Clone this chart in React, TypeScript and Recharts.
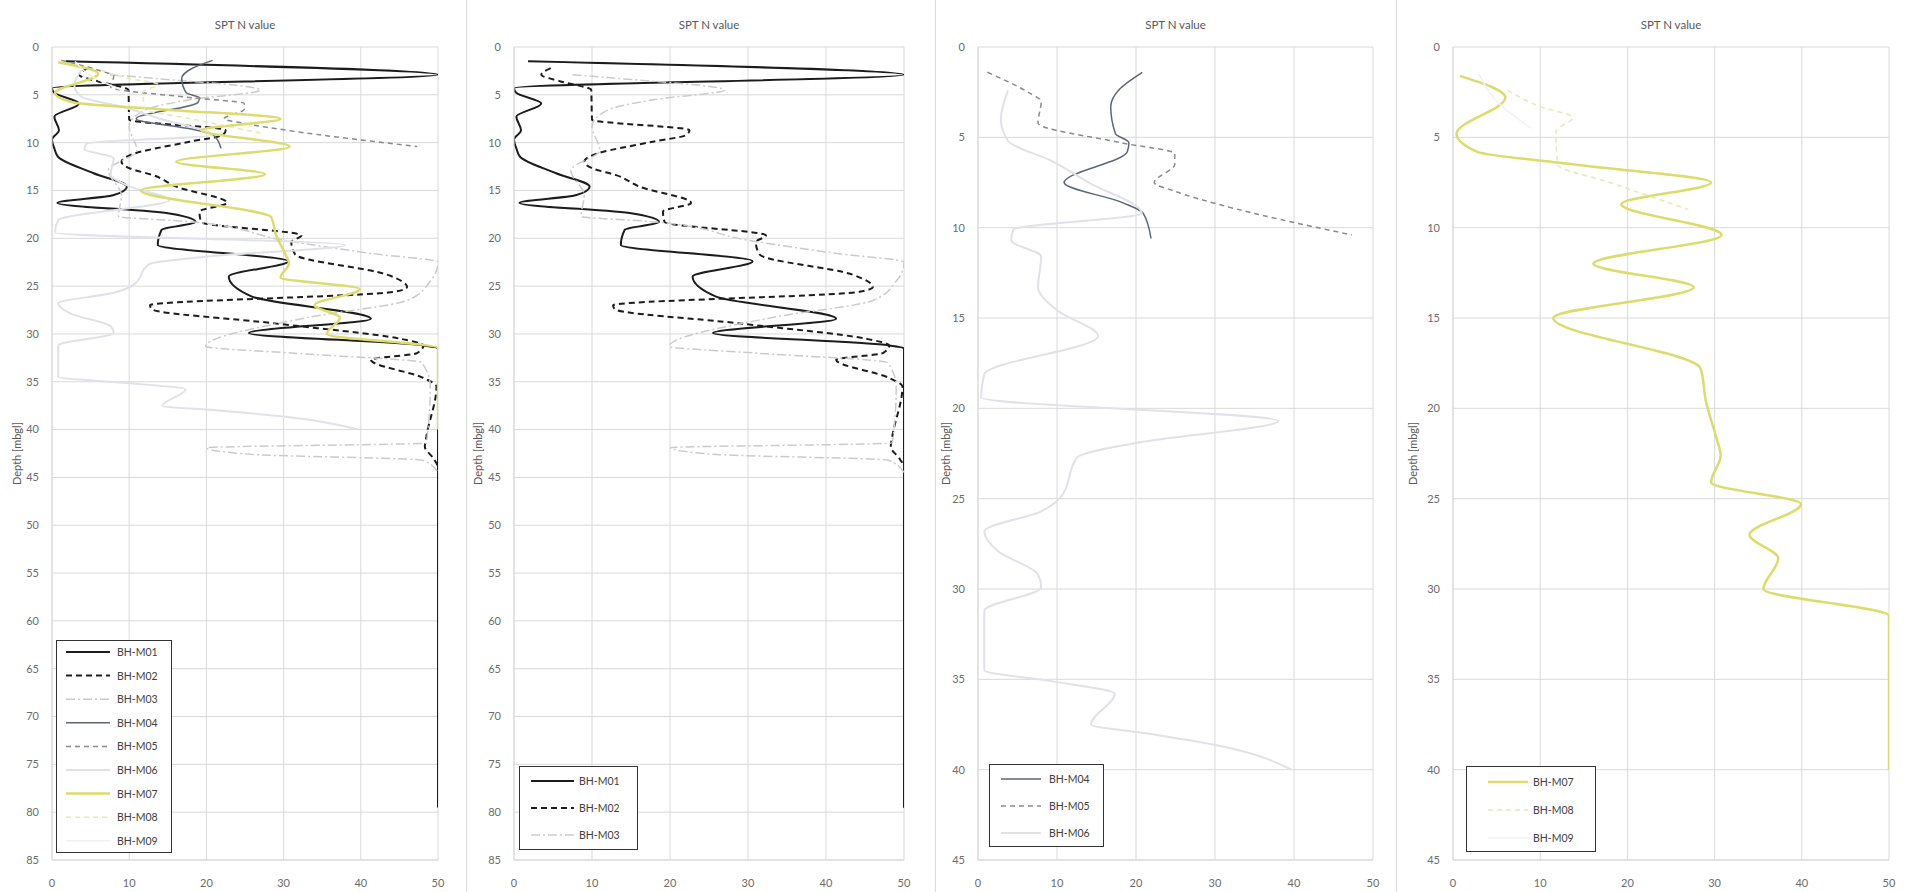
import React from 'react';
import { LineChart, Line, XAxis, YAxis, CartesianGrid } from 'recharts';

type Pt = { d: number; n: number };

// SPT N values per borehole: d = depth [mbgl], n = blow count
const bhM01: Pt[] = [
  { d: 1.5, n: 1.8 }, { d: 2.9, n: 50 }, { d: 4.3, n: 0 }, { d: 4.8, n: 0.3 },
  { d: 5.9, n: 3.5 }, { d: 7.3, n: 0.3 }, { d: 8.7, n: 0.9 }, { d: 9.7, n: 0 },
  { d: 10.6, n: 0.3 }, { d: 11.5, n: 0.8 }, { d: 13.2, n: 5.4 }, { d: 14.6, n: 9.7 },
  { d: 15.5, n: 7.9 }, { d: 16.3, n: 0.7 }, { d: 17.4, n: 15.2 }, { d: 18.3, n: 18.6 },
  { d: 19.1, n: 14.2 }, { d: 20.7, n: 13.7 }, { d: 22.4, n: 30.6 }, { d: 24.0, n: 22.9 },
  { d: 26.1, n: 25.9 }, { d: 28.4, n: 41.3 }, { d: 29.9, n: 25.5 }, { d: 31.2, n: 48.1 },
  { d: 31.5, n: 50 }, { d: 79.5, n: 50 },
];

const bhM02: Pt[] = [
  { d: 2.2, n: 4.7 }, { d: 2.9, n: 3.5 }, { d: 3.6, n: 6 }, { d: 4.5, n: 9.9 },
  { d: 7.6, n: 10 }, { d: 8.7, n: 22.5 }, { d: 9.2, n: 22.1 }, { d: 9.9, n: 17.8 },
  { d: 11.3, n: 10.1 }, { d: 12.0, n: 9.0 }, { d: 12.7, n: 10.1 }, { d: 13.4, n: 13.1 },
  { d: 14.6, n: 16.1 }, { d: 16.3, n: 22.7 }, { d: 17.2, n: 19.1 }, { d: 18.3, n: 19.3 },
  { d: 19.7, n: 32.3 }, { d: 20.4, n: 31 }, { d: 21.7, n: 31.5 }, { d: 23.8, n: 43.4 },
  { d: 25.1, n: 46 }, { d: 25.6, n: 44.3 }, { d: 27.0, n: 12.7 }, { d: 27.4, n: 12.9 },
  { d: 28.9, n: 28.9 }, { d: 30.5, n: 45.1 }, { d: 31.2, n: 48.1 }, { d: 32.0, n: 47.3 },
  { d: 32.7, n: 41.3 }, { d: 34.6, n: 48.1 }, { d: 35.5, n: 49.8 }, { d: 40.7, n: 48.5 },
  { d: 41.8, n: 48.3 }, { d: 43.0, n: 49.4 }, { d: 44.0, n: 50 }, { d: 79.5, n: 50 },
];

const bhM03: Pt[] = [
  { d: 2.9, n: 7.5 }, { d: 3.2, n: 12 }, { d: 4.5, n: 27 }, { d: 5.5, n: 18 },
  { d: 6.6, n: 12 }, { d: 8.3, n: 10 }, { d: 10.8, n: 11 }, { d: 12.9, n: 7.3 },
  { d: 15.5, n: 9 }, { d: 17.7, n: 8.6 }, { d: 18.3, n: 18.4 }, { d: 20.2, n: 30 },
  { d: 21.6, n: 41.5 }, { d: 22.5, n: 50 }, { d: 24.5, n: 49 }, { d: 26.5, n: 46 },
  { d: 28.3, n: 33 }, { d: 31.3, n: 19.9 }, { d: 32.0, n: 31 }, { d: 33.0, n: 47.9 },
  { d: 35.5, n: 49 }, { d: 41.4, n: 48.5 }, { d: 41.9, n: 20 }, { d: 42.6, n: 26 },
  { d: 43.2, n: 48 }, { d: 44.5, n: 50 },
];

const bhM04: Pt[] = [
  { d: 1.4, n: 20.8 }, { d: 2.3, n: 18 }, { d: 3.3, n: 16.8 }, { d: 4.8, n: 17.4 },
  { d: 5.3, n: 19.1 }, { d: 5.8, n: 18.9 }, { d: 7.5, n: 10.9 }, { d: 8.6, n: 18.2 },
  { d: 9.2, n: 20.9 }, { d: 10.6, n: 21.9 },
];

const bhM05: Pt[] = [
  { d: 1.4, n: 1.2 }, { d: 2.6, n: 6.7 }, { d: 3.0, n: 8 }, { d: 4.2, n: 7.6 },
  { d: 5.3, n: 18.1 }, { d: 5.9, n: 24.9 }, { d: 6.5, n: 24.9 }, { d: 7.5, n: 22.3 },
  { d: 8.0, n: 25 }, { d: 8.75, n: 30.8 }, { d: 10.4, n: 47.3 },
];

const bhM06: Pt[] = [
  { d: 2.4, n: 3.8 }, { d: 4.0, n: 2.9 }, { d: 5.2, n: 3.8 }, { d: 6.3, n: 9.3 },
  { d: 7.5, n: 14 }, { d: 9.2, n: 20.7 }, { d: 10.1, n: 4.5 }, { d: 10.7, n: 4.2 },
  { d: 11.6, n: 8 }, { d: 13.3, n: 7.6 }, { d: 14.6, n: 10.1 }, { d: 16.0, n: 15.2 },
  { d: 18.1, n: 0.8 }, { d: 19.4, n: 0.4 }, { d: 20.7, n: 38 }, { d: 21.9, n: 20.2 },
  { d: 22.7, n: 12.6 }, { d: 24.9, n: 10.5 }, { d: 25.7, n: 8 }, { d: 26.8, n: 0.8 },
  { d: 27.9, n: 2.5 }, { d: 29.2, n: 7.6 }, { d: 29.9, n: 8 }, { d: 31.2, n: 0.8 },
  { d: 34.5, n: 0.8 }, { d: 35.1, n: 9.3 }, { d: 35.8, n: 17.3 }, { d: 37.5, n: 14.3 },
  { d: 38.0, n: 21.5 }, { d: 38.7, n: 30.8 }, { d: 40.0, n: 39.7 },
];

const bhM07: Pt[] = [
  { d: 1.6, n: 0.8 }, { d: 2.8, n: 6 }, { d: 4.8, n: 0.4 }, { d: 5.8, n: 2.8 },
  { d: 6.5, n: 13.9 }, { d: 7.5, n: 29.6 }, { d: 8.7, n: 19.3 }, { d: 10.4, n: 30.8 },
  { d: 12.0, n: 16.1 }, { d: 13.3, n: 27.6 }, { d: 15.0, n: 11.5 }, { d: 17.8, n: 28.4 },
  { d: 19.6, n: 29 }, { d: 21.8, n: 30.3 }, { d: 22.6, n: 30.7 }, { d: 24.1, n: 29.6 },
  { d: 25.3, n: 39.9 }, { d: 27.0, n: 34 }, { d: 28.3, n: 37.3 }, { d: 30.0, n: 35.6 },
  { d: 31.5, n: 50 }, { d: 40.0, n: 50 },
];

const bhM08: Pt[] = [
  { d: 2.4, n: 6.3 }, { d: 3.3, n: 10 }, { d: 3.9, n: 13.7 }, { d: 4.7, n: 11.8 },
  { d: 6.5, n: 12 }, { d: 7.5, n: 18 }, { d: 9.0, n: 27 },
];

const bhM09: Pt[] = [
  { d: 1.5, n: 3 }, { d: 3.0, n: 5 }, { d: 4.5, n: 9 },
];

const boreholeNames = ['BH-M01', 'BH-M02', 'BH-M03', 'BH-M04', 'BH-M05', 'BH-M06', 'BH-M07', 'BH-M08', 'BH-M09'];
const boreholeData: Pt[][] = [bhM01, bhM02, bhM03, bhM04, bhM05, bhM06, bhM07, bhM08, bhM09];

const nTicks = [0, 10, 20, 30, 40, 50];
const depthTicksDeep = [0, 5, 10, 15, 20, 25, 30, 35, 40, 45, 50, 55, 60, 65, 70, 75, 80, 85];
const depthTicksShallow = [0, 5, 10, 15, 20, 25, 30, 35, 40, 45];
const chartTitle = 'SPT N value';
const depthTitle = 'Depth [mbgl]';

type LineStyle = { stroke: string; width: number; dash?: string };

const lineStyles: LineStyle[] = [
  { stroke: '#1c1c1c', width: 2 },
  { stroke: '#1c1c1c', width: 2, dash: '6 4' },
  { stroke: '#cbcbcb', width: 1.5, dash: '9 3 2 3' },
  { stroke: '#5d6577', width: 1.5 },
  { stroke: '#8a8a8a', width: 1.5, dash: '5 4' },
  { stroke: '#e0e2e8', width: 2 },
  { stroke: '#dcdc6c', width: 2.5 },
  { stroke: '#e8e8b8', width: 1.5, dash: '5 4' },
  { stroke: '#f1f1f1', width: 1.5 },
];

const FONT = 'Lato, "Liberation Sans", sans-serif';
const H = 892;

type LegendCfg = {
  left: number; top: number; width: number; height: number;
  first: number; rowH: number; lx1: number; lx2: number; tx: number;
};

type PanelCfg = {
  left: number; width: number; yWidth: number; marginRight: number;
  depthMax: number; depthTicks: number[]; series: number[];
  labelOffset: number; legend: LegendCfg;
};

const panels: PanelCfg[] = [
  {
    left: 0, width: 466, yWidth: 52, marginRight: 28, depthMax: 85, depthTicks: depthTicksDeep,
    series: [0, 1, 2, 3, 4, 5, 6, 7, 8], labelOffset: 17,
    legend: { left: 56, top: 640, width: 116, height: 213, first: 12, rowH: 23.6, lx1: 10, lx2: 54, tx: 61 },
  },
  {
    left: 466, width: 469, yWidth: 47, marginRight: 32, depthMax: 85, depthTicks: depthTicksDeep,
    series: [0, 1, 2], labelOffset: 11,
    legend: { left: 52, top: 766, width: 119, height: 84, first: 15, rowH: 27, lx1: 12, lx2: 55, tx: 60 },
  },
  {
    left: 935, width: 461, yWidth: 42, marginRight: 24, depthMax: 45, depthTicks: depthTicksShallow,
    series: [3, 4, 5], labelOffset: 10,
    legend: { left: 53, top: 764, width: 115, height: 83, first: 15, rowH: 27, lx1: 12, lx2: 52, tx: 60 },
  },
  {
    left: 1396, width: 510, yWidth: 56, marginRight: 18, depthMax: 45, depthTicks: depthTicksShallow,
    series: [6, 7, 8], labelOffset: 16,
    legend: { left: 69, top: 766, width: 130, height: 86, first: 16, rowH: 28, lx1: 22, lx2: 62, tx: 67 },
  },
];

function LegendBox({ cfg, series }: { cfg: LegendCfg; series: number[] }) {
  return (
    <div
      style={{
        position: 'absolute', left: cfg.left, top: cfg.top, width: cfg.width, height: cfg.height,
        boxSizing: 'border-box', border: '1.5px solid #333', background: '#fff',
      }}
    >
      <svg width={cfg.width} height={cfg.height} style={{ position: 'absolute', left: -1.5, top: -1.5 }}>
        {series.map((si, i) => {
          const y = cfg.first + i * cfg.rowH;
          const st = lineStyles[si];
          return (
            <g key={si}>
              <line x1={cfg.lx1} x2={cfg.lx2} y1={y} y2={y} stroke={st.stroke}
                strokeWidth={st.width} strokeDasharray={st.dash} />
              <text x={cfg.tx} y={y} dominantBaseline="central" fontSize={10.5}
                fontFamily={FONT} fill="#404040">{boreholeNames[si]}</text>
            </g>
          );
        })}
      </svg>
    </div>
  );
}

function Panel({ cfg }: { cfg: PanelCfg }) {
  const plotLeft = cfg.yWidth;
  const plotRight = cfg.width - cfg.marginRight;
  return (
    <div style={{ position: 'absolute', left: cfg.left, top: 0, width: cfg.width, height: H,
      borderLeft: cfg.left > 0 ? '1px solid #d9d9d9' : 'none', boxSizing: 'border-box' }}>
      <LineChart
        layout="vertical"
        width={cfg.width}
        height={H}
        margin={{ top: 47, right: cfg.marginRight, bottom: 0, left: 0 }}
        style={{ fontFamily: FONT }}
      >
        <CartesianGrid stroke="#d9d9d9" strokeWidth={1} />
        <XAxis
          type="number"
          dataKey="n"
          domain={[0, 50]}
          ticks={nTicks}
          interval={0}
          allowDataOverflow
          height={32}
          axisLine={{ stroke: '#d9d9d9' }}
          tickLine={false}
          tickSize={0}
          tickMargin={19}
          tick={{ fontSize: 11, fill: '#6b6b6b', fontFamily: FONT }}
        />
        <YAxis
          type="number"
          dataKey="d"
          domain={[0, cfg.depthMax]}
          ticks={cfg.depthTicks}
          interval={0}
          allowDataOverflow
          width={cfg.yWidth}
          axisLine={{ stroke: '#d9d9d9' }}
          tickLine={false}
          tickSize={0}
          tickMargin={13}
          tick={{ fontSize: 11, fill: '#6b6b6b', fontFamily: FONT }}
          label={{
            value: depthTitle, angle: -90, position: 'insideLeft', offset: cfg.labelOffset,
            style: { textAnchor: 'middle', fontSize: 11, fill: '#595959', fontFamily: FONT },
          }}
        />
        {cfg.series.map((si) => {
          const st = lineStyles[si];
          return (
            <Line
              key={boreholeNames[si]}
              name={boreholeNames[si]}
              data={boreholeData[si]}
              dataKey="n"
              type="monotone"
              stroke={st.stroke}
              strokeWidth={st.width}
              strokeDasharray={st.dash}
              dot={false}
              activeDot={false}
              isAnimationActive={false}
            />
          );
        })}
      </LineChart>
      <div style={{ position: 'absolute', top: 18, left: plotLeft, width: plotRight - plotLeft,
        textAlign: 'center', fontSize: 11.5, color: '#595959', fontFamily: FONT }}>
        {chartTitle}
      </div>
      <LegendBox cfg={cfg.legend} series={cfg.series} />
    </div>
  );
}

export default function App() {
  return (
    <div style={{ position: 'absolute', left: 0, top: 0, width: 1906, height: H, background: '#fff', overflow: 'hidden' }}>
      {panels.map((p, i) => <Panel key={i} cfg={p} />)}
    </div>
  );
}
